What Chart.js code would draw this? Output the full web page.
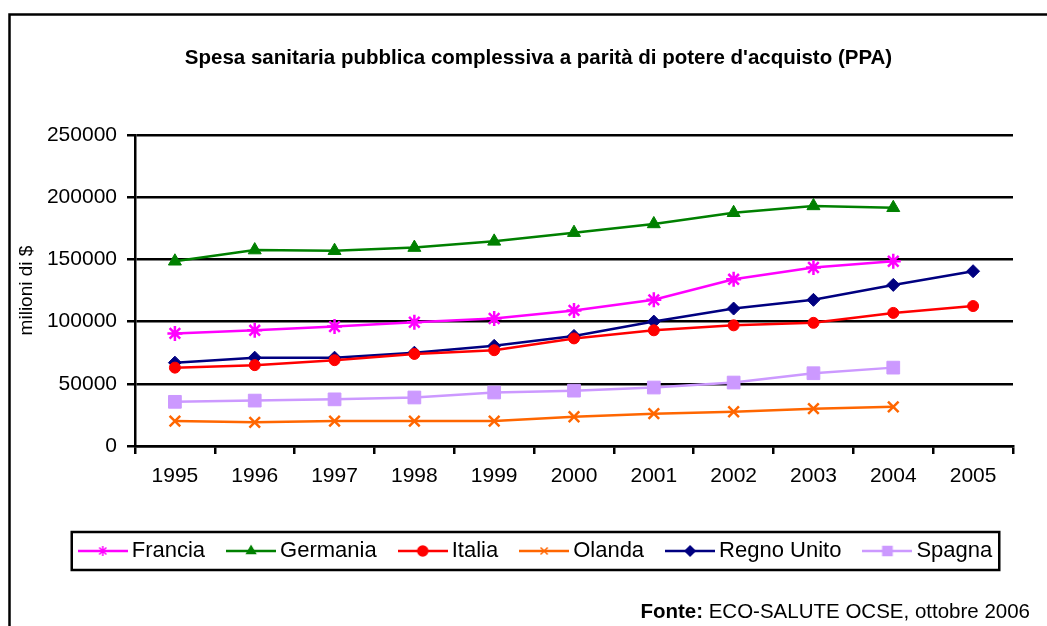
<!DOCTYPE html>
<html lang="it">

<head>
    <meta charset="UTF-8">
    <title>Spesa sanitaria pubblica complessiva (PPA)</title>
    <script src="https://cdn.jsdelivr.net/npm/chart.js"></script>
    <style>
        html, body { margin: 0; padding: 0; background: #fff; }
        #wrap { width: 1047px; height: 626px; position: relative; }
    </style>
</head>

<body>
    <div id="wrap"><canvas id="spesaChart"></canvas></div>

    <script>
        // dati (milioni di $)
        const anni = ['1995', '1996', '1997', '1998', '1999', '2000', '2001', '2002', '2003', '2004', '2005'];
        const francia = [90500, 93000, 96000, 99500, 102500, 109000, 117500, 134000, 143500, 148500, null];
        const germania = [148500, 157500, 157000, 159500, 164500, 171500, 178500, 187500, 193000, 191500, null];
        const italia = [63000, 65000, 69000, 74000, 77000, 86500, 93000, 97000, 99000, 107000, 112500];
        const olanda = [20000, 19000, 20000, 20000, 20000, 23500, 26000, 27500, 30000, 31500, null];
        const regnoUnito = [67000, 71000, 71000, 75000, 80500, 88500, 100000, 110500, 117500, 129500, 140500];
        const spagna = [35500, 36500, 37500, 39000, 43000, 44500, 47000, 51000, 58500, 63000, null];
        const yTicks = [0, 50000, 100000, 150000, 200000, 250000];

        const FONT = "'Liberation Sans', Arial, sans-serif";
        Chart.defaults.font.family = FONT;
        Chart.defaults.color = '#000';

        function serie(label, data, color, style, radius) {
            return {
                label: label,
                data: data,
                borderColor: color,
                backgroundColor: color,
                borderWidth: 2.5,
                tension: 0,
                pointStyle: style,
                pointRadius: radius,
                pointHoverRadius: radius,
                pointBorderWidth: (style === 'star' || style === 'crossRot') ? 2.5 : 1,
                pointBackgroundColor: color,
                pointBorderColor: color
            };
        }

        const datasets = [
            serie('Francia', francia, '#FF00FF', 'star', 7.5),
            serie('Germania', germania, '#008000', 'triangle', 7.5),
            serie('Italia', italia, '#FF0000', 'circle', 5.5),
            serie('Olanda', olanda, '#FF6600', 'crossRot', 7.5),
            serie('Regno Unito', regnoUnito, '#000080', 'rectRot', 6.5),
            serie('Spagna', spagna, '#CC99FF', 'rect', 9)
        ];

        // icona legenda: linea + marcatore
        function legendIcon(ds) {
            const c = document.createElement('canvas');
            c.width = 50;
            c.height = 16;
            const g = c.getContext('2d');
            g.strokeStyle = ds.borderColor;
            g.lineWidth = 2.5;
            g.beginPath();
            g.moveTo(0, 8);
            g.lineTo(50, 8);
            g.stroke();
            g.fillStyle = ds.borderColor;
            g.lineWidth = 1.5;
            const r = ds.pointStyle === 'rect' ? 6.5 : 5;
            Chart.helpers.drawPoint(g, { pointStyle: ds.pointStyle, radius: r, borderWidth: 1.5, rotation: 0 }, 25, 8);
            return c;
        }
        const icone = datasets.map(legendIcon);

        const cornice = {
            id: 'cornice',
            afterDraw(chart) {
                const ctx = chart.ctx;
                ctx.save();
                // bordo esterno
                ctx.strokeStyle = '#000';
                ctx.lineWidth = 2.5;
                ctx.beginPath();
                ctx.moveTo(9.5, 626);
                ctx.lineTo(9.5, 14.5);
                ctx.lineTo(1047, 14.5);
                ctx.stroke();

                // riquadro legenda
                const hb = chart.legend.legendHitBoxes;
                if (hb && hb.length) {
                    const last = hb[hb.length - 1];
                    const cy = hb[0].top + hb[0].height / 2;
                    const x0 = hb[0].left - 13;
                    const x1 = last.left + last.width + 7;
                    ctx.strokeRect(x0, cy - 19, x1 - x0, 38);
                }

                // fonte
                ctx.fillStyle = '#000';
                ctx.textBaseline = 'alphabetic';
                ctx.textAlign = 'right';
                ctx.font = '20.5px ' + FONT;
                const resto = 'ECO-SALUTE OCSE, ottobre 2006';
                ctx.fillText(resto, 1030, 618);
                const w = ctx.measureText(' ' + resto).width;
                ctx.font = 'bold 20.5px ' + FONT;
                ctx.fillText('Fonte:', 1030 - w, 618);
                ctx.restore();
            }
        };

        new Chart(document.getElementById('spesaChart'), {
            type: 'line',
            data: { labels: anni, datasets: datasets },
            options: {
                responsive: true,
                maintainAspectRatio: false,
                animation: false,
                devicePixelRatio: 1,
                layout: { padding: { left: 30, right: 0, top: 0, bottom: 54 } },
                plugins: {
                    title: {
                        display: true,
                        text: "Spesa sanitaria pubblica complessiva a parità di potere d'acquisto (PPA)",
                        font: { size: 20.5, weight: 'bold' },
                        color: '#000',
                        padding: { top: 45.7, bottom: 64.7 }
                    },
                    legend: {
                        position: 'bottom',
                        labels: {
                            usePointStyle: true,
                            pointStyleWidth: 36,
                            padding: 28,
                            font: { size: 22 },
                            color: '#000',
                            generateLabels: chart => Chart.defaults.plugins.legend.labels.generateLabels(chart)
                                .map((it, i) => Object.assign(it, { pointStyle: icone[i] }))
                        }
                    },
                    tooltip: { enabled: false }
                },
                scales: {
                    x: {
                        offset: true,
                        grid: { offset: true, drawOnChartArea: false, drawTicks: true, tickLength: 8, color: '#000', lineWidth: 2.5 },
                        border: { color: '#000', width: 2.5 },
                        ticks: { font: { size: 21 }, padding: 10, maxRotation: 0, autoSkip: false },
                        afterFit: s => { s.height = 66; }
                    },
                    y: {
                        min: 0,
                        max: 250000,
                        afterBuildTicks: s => { s.ticks = yTicks.map(v => ({ value: v })); },
                        grid: { color: '#000', lineWidth: 2.5, tickLength: 8 },
                        border: { color: '#000', width: 2.5 },
                        ticks: { font: { size: 21 }, padding: 10, callback: v => String(v) },
                        title: { display: true, text: 'milioni di $', font: { size: 19 }, color: '#000', padding: { top: -14.4 } },
                        afterFit: s => { s.width = 105; }
                    },
                    y2: {
                        position: 'right',
                        display: true,
                        grid: { display: false },
                        border: { display: false },
                        ticks: { display: false },
                        afterFit: s => { s.width = 34; }
                    }
                }
            },
            plugins: [cornice]
        });
    </script>
</body>

</html>
